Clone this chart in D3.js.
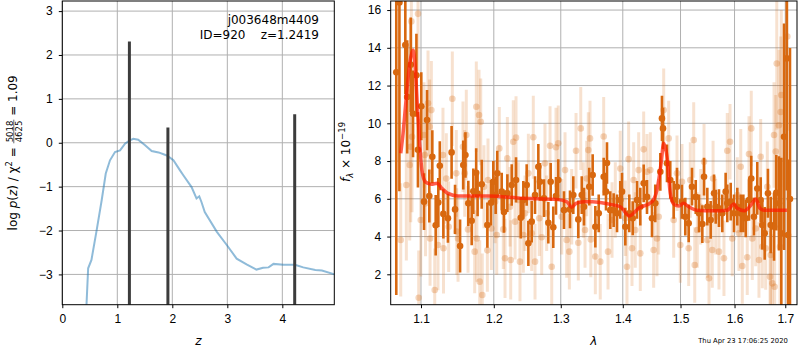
<!DOCTYPE html>
<html>
<head>
<meta charset="utf-8">
<script src="https://cdn.jsdelivr.net/npm/d3@7"></script>
<style>
body { margin: 0; background: #fff; }
svg { font-family: "DejaVu Sans", sans-serif; }
</style>
</head>
<body>
<div id="chart"></div>
<script>
// p(z) panel
var pzZ = [0.44, 0.47, 0.53, 0.625, 0.716, 0.79, 0.867, 0.958, 1.05, 1.14, 1.22, 1.29, 1.38, 1.5, 1.625, 1.75, 1.9, 2.02, 2.14, 2.2, 2.35, 2.44, 2.49, 2.53, 2.59, 2.81, 2.99, 3.17, 3.35, 3.53, 3.65, 3.75, 3.84, 4.02, 4.23, 4.38, 4.6, 4.72, 4.95];
var pzLog = [-3.69, -2.86, -2.67, -1.99, -1.31, -0.70, -0.40, -0.21, -0.175, -0.02, 0.05, 0.09, 0.07, -0.05, -0.19, -0.22, -0.29, -0.40, -0.63, -0.74, -1.01, -1.27, -1.22, -1.35, -1.58, -2.03, -2.33, -2.64, -2.77, -2.89, -2.85, -2.84, -2.76, -2.78, -2.78, -2.84, -2.90, -2.91, -3.0];
var peakZ = [1.22, 1.92, 4.225];
var peakLog = [2.31, 0.35, 0.65];
var zTicks = [0, 1, 2, 3, 4];
var logTicks = [-3, -2, -1, 0, 1, 2, 3];

// spectrum panel, dark points
var darkLam = [1.068, 1.072, 1.0796, 1.082, 1.0866, 1.0896, 1.094, 1.096, 1.1004, 1.104, 1.108, 1.111, 1.115, 1.1195, 1.123, 1.125, 1.1298, 1.136, 1.141, 1.1457, 1.1526, 1.157, 1.160, 1.164, 1.1687, 1.171, 1.175, 1.177, 1.1828, 1.1908, 1.196, 1.1993, 1.2027, 1.205, 1.2114, 1.2147, 1.2196, 1.226, 1.2323, 1.2393, 1.2431, 1.2481, 1.2506, 1.2556, 1.2606, 1.2656, 1.2681, 1.2742, 1.2808, 1.2844, 1.2884, 1.2926, 1.2961, 1.305, 1.3144, 1.3196, 1.3275, 1.333, 1.3366, 1.345, 1.3505, 1.3548, 1.3603, 1.3684, 1.3722, 1.3738, 1.3792, 1.3848, 1.3904, 1.3958, 1.3987, 1.4042, 1.4109, 1.4167, 1.424, 1.4296, 1.4354, 1.4411, 1.4497, 1.4554, 1.4642, 1.4671, 1.4689, 1.4759, 1.4817, 1.4878, 1.4937, 1.5026, 1.5086, 1.5147, 1.5207, 1.5275, 1.5335, 1.5396, 1.5427, 1.5488, 1.555, 1.5613, 1.5644, 1.5705, 1.5768, 1.5831, 1.5862, 1.5927, 1.599, 1.6053, 1.6119, 1.6169, 1.6215, 1.6279, 1.6323, 1.6375, 1.6441, 1.6508, 1.654, 1.6587, 1.6652, 1.6707, 1.6773, 1.6819, 1.6872, 1.692, 1.6975, 1.703, 1.7055, 1.7096];
var darkFlux = [12.7, 16.4, 14.15, 11.4, 13.1, 10.5, 12.55, 8.6, 10.9, 5.85, 10.17, 6.15, 8.23, 4.6, 5.8, 7.75, 5.2, 4.97, 8.46, 5.44, 3.5, 7.79, 8.32, 5.76, 4.84, 6.4, 7.38, 6.28, 6.77, 4.61, 5.79, 6.9, 6.2, 7.35, 6.38, 5.3, 6.3, 6.73, 7.0, 5.0, 5.94, 6.73, 3.64, 4.79, 6.2, 7.7, 6.9, 6.03, 4.73, 6.9, 4.49, 6.15, 7.0, 5.4, 5.44, 6.2, 4.91, 6.2, 5.58, 6.64, 7.26, 4.52, 5.23, 7.17, 6.38, 7.9, 5.4, 5.4, 5.23, 5.94, 6.38, 4.52, 5.23, 4.97, 5.94, 5.58, 6.82, 6.1, 4.97, 5.76, 7.43, 10.26, 9.73, 7.88, 7.0, 5.94, 6.64, 5.85, 5.05, 4.7, 6.64, 6.1, 5.23, 4.66, 7.17, 5.58, 4.88, 6.29, 5.58, 5.5, 5.23, 6.38, 5.76, 5.85, 5.23, 5.58, 5.23, 5.23, 4.97, 5.94, 7.08, 5.05, 6.55, 5.94, 4.61, 4.17, 6.29, 4.61, 4.52, 6.32, 5.76, 4.17, 9.29, 13.44, 4.08, 5.99];
var darkErr = [11.8, 10, 2.6, 3, 2.5, 2.3, 2.2, 2.0, 1.8, 1.5, 1.6, 1.4, 1.4, 1.6, 1.3, 1.3, 1.3, 1.3, 1.4, 1.3, 1.4, 1.3, 1.2, 1.2, 1.3, 1.2, 1.3, 1.2, 1.3, 1.2, 1.2, 1.1, 1.0, 1.2, 1.0, 1.1, 1.0, 1.1, 1.2, 1.1, 1.0, 1.1, 1.2, 1.1, 1.0, 1.2, 1.0, 1.0, 1.1, 1.0, 1.1, 1.0, 1.1, 1.0, 1.0, 1.0, 1.0, 1.0, 1.0, 1.0, 1.1, 1.1, 1.0, 1.0, 1.0, 1.1, 1.0, 0.9, 1.0, 1.0, 1.0, 1.0, 1.0, 0.9, 1.0, 1.0, 1.0, 0.9, 1.0, 1.0, 1.0, 1.2, 1.1, 1.0, 1.0, 1.0, 1.0, 0.9, 1.0, 1.0, 1.0, 0.9, 1.0, 1.0, 1.0, 1.0, 1.0, 1.0, 0.9, 1.0, 1.0, 1.0, 1.0, 1.0, 1.0, 1.0, 1.0, 1.0, 1.0, 1.1, 1.2, 1.0, 1.4, 1.2, 1.3, 1.4, 1.3, 1.5, 1.8, 2.0, 2.5, 4, 6, 7, 4, 8];

// spectrum panel, light points
var lightLam = [1.0737, 1.0809, 1.0853, 1.0866, 1.0874, 1.0883, 1.0961, 1.097, 1.0997, 1.104, 1.105, 1.106, 1.1093, 1.1115, 1.112, 1.1137, 1.1182, 1.1226, 1.1293, 1.130, 1.1338, 1.137, 1.142, 1.1474, 1.148, 1.1498, 1.1566, 1.159, 1.1612, 1.1636, 1.1729, 1.1752, 1.176, 1.179, 1.18, 1.1814, 1.1836, 1.186, 1.1908, 1.1917, 1.1965, 1.2018, 1.2042, 1.2079, 1.2137, 1.2162, 1.2196, 1.2235, 1.2245, 1.2283, 1.2309, 1.2323, 1.2357, 1.2381, 1.2431, 1.2456, 1.2506, 1.2556, 1.258, 1.2606, 1.267, 1.2707, 1.2757, 1.2783, 1.2834, 1.286, 1.2926, 1.2961, 1.3015, 1.3066, 1.3092, 1.3134, 1.3171, 1.3239, 1.3275, 1.3314, 1.3355, 1.3382, 1.3409, 1.3435, 1.3462, 1.3475, 1.3548, 1.3628, 1.3684, 1.3755, 1.3821, 1.3875, 1.3958, 1.4042, 1.407, 1.4098, 1.4155, 1.4183, 1.421, 1.4268, 1.4296, 1.4354, 1.4411, 1.4468, 1.4526, 1.4584, 1.4614, 1.4701, 1.4789, 1.4878, 1.4937, 1.4996, 1.5026, 1.5147, 1.5176, 1.5238, 1.5257, 1.5304, 1.5366, 1.5427, 1.5488, 1.5519, 1.558, 1.5595, 1.5644, 1.5705, 1.5799, 1.5862, 1.5914, 1.5957, 1.6053, 1.6085, 1.6119, 1.6149, 1.6245, 1.6279, 1.6323, 1.6343, 1.641, 1.6474, 1.6508, 1.654, 1.6607, 1.6639, 1.6693, 1.6707, 1.6739, 1.6773, 1.6785, 1.6808, 1.6828, 1.6872, 1.6893, 1.6907, 1.692, 1.7042];
var lightFlux = [3.82, 6.73, 7.79, 8.76, 15.4, 9.29, 15.8, 0.76, 4.88, 9.38, 8.32, 5.76, 11.06, 9.82, 3.9, 10.7, 1.17, 3.55, 8.32, 3.38, 7.08, 4.52, 11.3, 7.35, 4.26, 3.9, 8.76, 7.35, 9.38, 4.38, 3.2, 10.88, 3.9, 10.44, 1.61, 10.08, 0.9, 6.64, 3.27, 7.0, 4.43, 5.85, 4.08, 8.67, 4.38, 2.85, 8.14, 5.58, 2.76, 9.02, 4.79, 9.24, 5.94, 2.67, 4.08, 5.23, 7.35, 4.17, 9.26, 2.67, 4.97, 3.96, 7.88, 5.23, 8.81, 2.4, 8.73, 8.94, 5.05, 7.52, 3.82, 3.2, 5.58, 8.55, 3.67, 9.73, 5.94, 4.35, 7.08, 8.58, 9.2, 3.85, 2.94, 2.67, 9.3, 3.2, 4.88, 5.94, 7.6, 4.97, 2.4, 8.1, 3.38, 7.0, 4.35, 7.52, 3.11, 8.62, 7.43, 7.52, 3.29, 3.9, 5.05, 10.7, 9.2, 4.88, 7.35, 3.55, 6.9, 3.38, 7.0, 9.11, 2.49, 4.35, 5.58, 7.96, 3.82, 1.79, 3.29, 7.08, 5.05, 3.2, 2.85, 8.55, 9.02, 3.9, 6.2, 4.17, 7.7, 2.44, 2.9, 8.37, 9.73, 3.9, 4.43, 2.76, 8.23, 3.46, 3.38, 6.64, 1.87, 3.02, 1.52, 9.38, 1.34, 8.5, 13.17, 9.9, 3.46, 10.6, 11.5, 14.6];
var lightErr = [3, 4, 4, 4, 4, 4, 3, 2.5, 3, 2.8, 2.6, 2.8, 2.8, 2.5, 2.5, 2.6, 2.2, 2.4, 2.5, 2.4, 2.4, 2.4, 2.5, 2.3, 2.3, 2.3, 2.4, 2.3, 2.4, 2.3, 2.2, 2.4, 2.3, 2.4, 2.2, 2.3, 2.2, 2.2, 2.2, 2.2, 2.2, 2.2, 2.1, 2.2, 2.1, 2.1, 2.2, 2.1, 2.1, 2.2, 2.0, 2.2, 2.0, 2.1, 2.0, 2.0, 2.1, 2.0, 2.2, 2.0, 2.0, 2.0, 2.1, 2.0, 2.1, 2.0, 2.1, 2.0, 2.0, 2.0, 2.0, 2.0, 2.0, 2.0, 2.0, 2.2, 2.0, 2.0, 2.0, 2.0, 2.0, 2.0, 2.0, 2.0, 2.1, 2.0, 2.0, 2.0, 2.0, 2.0, 2.0, 2.0, 2.0, 2.0, 2.0, 2.0, 2.0, 2.0, 2.0, 2.0, 2.0, 2.0, 2.0, 2.2, 2.0, 2.0, 2.0, 2.0, 2.0, 2.0, 2.0, 2.0, 2.0, 2.0, 2.0, 2.0, 2.0, 2.0, 2.0, 2.0, 2.0, 2.0, 2.0, 2.0, 2.0, 2.0, 2.0, 2.0, 2.0, 2.0, 2.0, 2.0, 2.0, 2.2, 2.0, 2.0, 2.0, 2.2, 2.2, 2.4, 2.4, 2.6, 2.6, 2.8, 3, 3, 3.5, 4, 4, 4, 4.5, 5, 5];

// model spectrum
var modelLam = [1.0737, 1.0767, 1.0809, 1.0853, 1.0896, 1.0924, 1.0951, 1.0983, 1.1012, 1.1058, 1.1137, 1.1216, 1.127, 1.1361, 1.1498, 1.1683, 1.1917, 1.2431, 1.2926, 1.3092, 1.3171, 1.3239, 1.3355, 1.350, 1.3768, 1.3958, 1.4109, 1.4268, 1.4497, 1.4584, 1.4656, 1.4701, 1.476, 1.4817, 1.4878, 1.4975, 1.505, 1.5147, 1.529, 1.5613, 1.5862, 1.599, 1.6053, 1.6187, 1.6319, 1.641, 1.6491, 1.657, 1.7034];
var modelFlux = [8.41, 9.47, 11.4, 13.17, 13.88, 13.0, 11.06, 8.94, 7.52, 6.9, 6.77, 6.82, 6.59, 6.29, 6.15, 6.15, 6.15, 6.03, 5.97, 5.85, 5.55, 5.76, 5.85, 5.85, 5.72, 5.58, 5.09, 5.5, 5.85, 6.47, 7.88, 8.94, 8.23, 6.29, 5.72, 5.62, 5.76, 5.58, 5.4, 5.37, 5.40, 5.72, 5.5, 5.37, 5.67, 5.99, 5.5, 5.4, 5.4];
var lamTicks = [1.1, 1.2, 1.3, 1.4, 1.5, 1.6, 1.7];
var fluxTicks = [2, 4, 6, 8, 10, 12, 14, 16];

var orange = "#d8680f";
var gridColor = "#b0b0b0";

var svg = d3.select("#chart").append("svg")
	.attr("width", 800)
	.attr("height", 350);

// ---------- left panel ----------
var L = { left: 62.3, right: 334.3, top: 1, bottom: 304.7 };
var xL = d3.scaleLinear().domain([0, 4.945]).range([L.left, L.right]);
var yL = d3.scaleLinear().domain([-3.69, 3.23]).range([L.bottom, L.top]);

svg.append("clipPath").attr("id", "clipL").append("rect")
	.attr("x", L.left).attr("y", L.top)
	.attr("width", L.right - L.left).attr("height", L.bottom - L.top);

svg.append("g").selectAll("line")
	.data(zTicks).enter().append("line")
	.attr("x1", function(d) { return xL(d); }).attr("x2", function(d) { return xL(d); })
	.attr("y1", L.top).attr("y2", L.bottom)
	.style("stroke", gridColor).style("stroke-width", 1);
svg.append("g").selectAll("line")
	.data(logTicks).enter().append("line")
	.attr("y1", function(d) { return yL(d); }).attr("y2", function(d) { return yL(d); })
	.attr("x1", L.left).attr("x2", L.right)
	.style("stroke", gridColor).style("stroke-width", 1);

var plotL = svg.append("g").attr("clip-path", "url(#clipL)");

var pzLine = d3.line()
	.x(function(d, i) { return xL(pzZ[i]); })
	.y(function(d) { return yL(d); });
plotL.append("path")
	.datum(pzLog)
	.attr("d", pzLine)
	.style("fill", "none")
	.style("stroke", "#1f77b4")
	.style("stroke-opacity", 0.5)
	.style("stroke-width", 2);

plotL.selectAll("line.peak")
	.data(peakLog).enter().append("line")
	.attr("class", "peak")
	.attr("x1", function(d, i) { return xL(peakZ[i]); })
	.attr("x2", function(d, i) { return xL(peakZ[i]); })
	.attr("y1", function(d) { return yL(d); })
	.attr("y2", yL(-3.69))
	.style("stroke", "#3c3c3c")
	.style("stroke-width", 3);

svg.append("g")
	.attr("transform", "translate(0," + L.bottom + ")")
	.call(d3.axisBottom(xL).tickValues(zTicks).tickSize(3.5).tickPadding(6).tickFormat(d3.format("d")))
	.call(function(g) { g.select(".domain").remove(); })
	.selectAll("text").style("font-size", "12px").style("fill", "#000");
svg.append("g")
	.attr("transform", "translate(" + L.left + ",0)")
	.call(d3.axisLeft(yL).tickValues(logTicks).tickSize(3.5).tickPadding(6).tickFormat(d3.format("d")))
	.call(function(g) { g.select(".domain").remove(); })
	.selectAll("text").style("font-size", "12px").style("fill", "#000");

svg.append("rect")
	.attr("x", L.left).attr("y", L.top)
	.attr("width", L.right - L.left).attr("height", L.bottom - L.top)
	.style("fill", "none").style("stroke", "#000").style("stroke-width", 1);

svg.append("text")
	.attr("x", 319).attr("y", 23.5)
	.attr("text-anchor", "end")
	.style("font-size", "12px")
	.text("j003648m4409");
svg.append("text")
	.attr("x", 319).attr("y", 38.8)
	.attr("text-anchor", "end")
	.style("font-size", "12px")
	.style("white-space", "pre")
	.text("ID=920    z=1.2419");

svg.append("text")
	.attr("x", (L.left + L.right) / 2).attr("y", 344.5)
	.attr("text-anchor", "middle")
	.style("font-size", "12px").style("font-style", "italic")
	.text("z");

// y label with stacked fraction
var ylab = svg.append("g");
var t1 = ylab.append("text").style("font-size", "12px");
t1.append("tspan").text("log ");
t1.append("tspan").style("font-style", "italic").text("p");
t1.append("tspan").text("(");
t1.append("tspan").style("font-style", "italic").text("z");
t1.append("tspan").text(") / \u03c7");
t1.append("tspan").attr("dy", -5).style("font-size", "8.5px").text("2");
t1.append("tspan").attr("dy", 5).style("white-space", "pre").text(" = ");
var w1 = t1.node().getComputedTextLength();
var num = ylab.append("text").attr("y", -4.5).style("font-size", "8.5px").text("5018");
var den = ylab.append("text").attr("y", 4.5).style("font-size", "8.5px").text("4625");
var wf = Math.max(num.node().getComputedTextLength(), den.node().getComputedTextLength()) + 2;
num.attr("x", w1 + wf / 2).attr("text-anchor", "middle");
den.attr("x", w1 + wf / 2).attr("text-anchor", "middle");
ylab.append("line")
	.attr("x1", w1).attr("x2", w1 + wf)
	.attr("y1", -3.2).attr("y2", -3.2)
	.style("stroke", "#000").style("stroke-width", 0.6);
var t2 = ylab.append("text").attr("x", w1 + wf).style("font-size", "12px")
	.style("white-space", "pre").text(" = 1.09");
var wAll = w1 + wf + t2.node().getComputedTextLength();
ylab.attr("transform", "translate(17," + ((L.top + L.bottom) / 2 + wAll / 2) + ") rotate(-90)");

// ---------- right panel ----------
var R = { left: 390.7, right: 797, top: 1, bottom: 304.7 };
var xR = d3.scaleLog().domain([1.0609, 1.724]).range([R.left, R.right]);
var yR = d3.scaleLinear().domain([0.39, 16.48]).range([R.bottom, R.top]);

svg.append("clipPath").attr("id", "clipR").append("rect")
	.attr("x", R.left).attr("y", R.top)
	.attr("width", R.right - R.left).attr("height", R.bottom - R.top);

svg.append("g").selectAll("line")
	.data(lamTicks).enter().append("line")
	.attr("x1", function(d) { return xR(d); }).attr("x2", function(d) { return xR(d); })
	.attr("y1", R.top).attr("y2", R.bottom)
	.style("stroke", gridColor).style("stroke-width", 1);
svg.append("g").selectAll("line")
	.data(fluxTicks).enter().append("line")
	.attr("y1", function(d) { return yR(d); }).attr("y2", function(d) { return yR(d); })
	.attr("x1", R.left).attr("x2", R.right)
	.style("stroke", gridColor).style("stroke-width", 1);

var plotR = svg.append("g").attr("clip-path", "url(#clipR)");

// light (other orient)
plotR.selectAll("line.lbar")
	.data(lightFlux).enter().append("line")
	.attr("class", "lbar")
	.attr("x1", function(d, i) { return xR(lightLam[i]); })
	.attr("x2", function(d, i) { return xR(lightLam[i]); })
	.attr("y1", function(d, i) { return yR(d - lightErr[i]); })
	.attr("y2", function(d, i) { return yR(d + lightErr[i]); })
	.style("stroke", orange).style("stroke-opacity", 0.2).style("stroke-width", 3);
plotR.selectAll("circle.lpt")
	.data(lightFlux).enter().append("circle")
	.attr("class", "lpt")
	.attr("cx", function(d, i) { return xR(lightLam[i]); })
	.attr("cy", function(d) { return yR(d); })
	.attr("r", 3.3)
	.style("fill", orange).style("fill-opacity", 0.28);

// dark points
plotR.selectAll("line.dbar")
	.data(darkFlux).enter().append("line")
	.attr("class", "dbar")
	.attr("x1", function(d, i) { return xR(darkLam[i]); })
	.attr("x2", function(d, i) { return xR(darkLam[i]); })
	.attr("y1", function(d, i) { return yR(d - darkErr[i]); })
	.attr("y2", function(d, i) { return yR(d + darkErr[i]); })
	.style("stroke", orange).style("stroke-width", 2.6);
plotR.selectAll("circle.dpt")
	.data(darkFlux).enter().append("circle")
	.attr("class", "dpt")
	.attr("cx", function(d, i) { return xR(darkLam[i]); })
	.attr("cy", function(d) { return yR(d); })
	.attr("r", 3.3)
	.style("fill", orange);

var modelLine = d3.line()
	.x(function(d, i) { return xR(modelLam[i]); })
	.y(function(d) { return yR(d); })
	.curve(d3.curveMonotoneX);
plotR.append("path")
	.datum(modelFlux)
	.attr("d", modelLine)
	.style("fill", "none")
	.style("stroke", "#ff1a00")
	.style("stroke-opacity", 0.7)
	.style("stroke-width", 3.5);

svg.append("g")
	.attr("transform", "translate(0," + R.bottom + ")")
	.call(d3.axisBottom(xR).tickValues(lamTicks).tickSize(3.5).tickPadding(6).tickFormat(d3.format(".1f")))
	.call(function(g) { g.select(".domain").remove(); })
	.selectAll("text").style("font-size", "12px").style("fill", "#000");
svg.append("g")
	.attr("transform", "translate(" + R.left + ",0)")
	.call(d3.axisLeft(yR).tickValues(fluxTicks).tickSize(3.5).tickPadding(6).tickFormat(d3.format("d")))
	.call(function(g) { g.select(".domain").remove(); })
	.selectAll("text").style("font-size", "12px").style("fill", "#000");

svg.append("rect")
	.attr("x", R.left).attr("y", R.top)
	.attr("width", R.right - R.left).attr("height", R.bottom - R.top)
	.style("fill", "none").style("stroke", "#000").style("stroke-width", 1);

svg.append("text")
	.attr("x", (R.left + R.right) / 2).attr("y", 344.5)
	.attr("text-anchor", "middle")
	.style("font-size", "12px").style("font-style", "italic")
	.text("\u03bb");

var ylabR = svg.append("text")
	.attr("transform", "translate(350,152) rotate(-90)")
	.attr("text-anchor", "middle")
	.style("font-size", "12px");
ylabR.append("tspan").style("font-style", "italic").text("f");
ylabR.append("tspan").attr("dy", 3).style("font-size", "8.5px").style("font-style", "italic").text("\u03bb");
ylabR.append("tspan").attr("dy", -3).style("white-space", "pre").text(" \u00d7 10");
ylabR.append("tspan").attr("dy", -5).style("font-size", "8.5px").text("\u221219");

svg.append("text")
	.attr("x", 743).attr("y", 342.5)
	.attr("text-anchor", "middle")
	.style("font-size", "6.8px")
	.text("Thu Apr 23 17:06:25 2020");
</script>
</body>
</html>
